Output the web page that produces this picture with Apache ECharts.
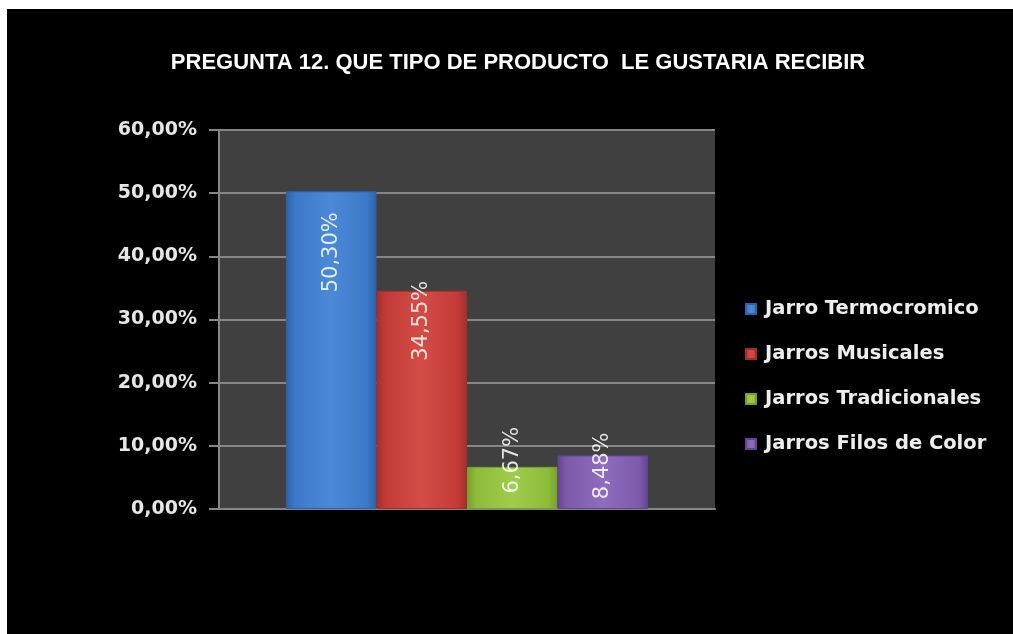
<!DOCTYPE html>
<html>
<head>
<meta charset="utf-8">
<script src="https://cdn.jsdelivr.net/npm/echarts@6/dist/echarts.min.js"></script>
<style>
  html, body { margin: 0; padding: 0; background: #ffffff; width: 1013px; height: 634px; overflow: hidden; }
  #chart { position: absolute; left: 7px; top: 9px; width: 1006px; height: 625px; background: #000000; }
</style>
</head>
<body>
<div id="chart"></div>
<script>
// Survey question 12: which product respondents would like to receive (share of answers)
const titleText = 'PREGUNTA 12. QUE TIPO DE PRODUCTO  LE GUSTARIA RECIBIR';
const categories = ['Pregunta 12'];
const seriesNames = ['Jarro Termocromico', 'Jarros Musicales', 'Jarros Tradicionales', 'Jarros Filos de Color'];
const seriesValues = [0.5030, 0.3455, 0.0667, 0.0848];
const tickValues = [0, 0.1, 0.2, 0.3, 0.4, 0.5, 0.6];

// bar appearance: [edge, face, light] per series
const palette = [
  ['#2f62a6', '#3b78c9', '#4c8ad8'],
  ['#a22e2a', '#c23b36', '#d44c46'],
  ['#74a02c', '#8cbc3a', '#a0cc4c'],
  ['#63458f', '#7d5aac', '#8e6dbd']
];
// label placement relative to each bar's top
const labelDistance = [21, -10, -40, -23];

const pct = v => (v * 100).toFixed(2).replace('.', ',') + '%';

function barFill(c) {
  return new echarts.graphic.LinearGradient(0, 0, 1, 0, [
    { offset: 0, color: c[0] },
    { offset: 0.1, color: c[1] },
    { offset: 0.5, color: c[2] },
    { offset: 0.9, color: c[1] },
    { offset: 1, color: c[0] }
  ]);
}

const chart = echarts.init(document.getElementById('chart'));

const series = seriesNames.map((name, i) => ({
  name: name,
  type: 'bar',
  barGap: '0%',
  barCategoryGap: '27%',
  data: [seriesValues[i]],
  itemStyle: {
    color: barFill(palette[i]),
    borderColor: palette[i][0],
    borderWidth: 1
  },
  label: {
    show: true,
    position: 'insideTop',
    distance: labelDistance[i],
    rotate: 90,
    align: 'right',
    verticalAlign: 'middle',
    formatter: p => pct(p.value),
    color: 'rgba(255,255,255,0.85)',
    fontFamily: 'DejaVu Sans',
    fontSize: 21
  },
  emphasis: { disabled: true }
}));

chart.setOption({
  animation: false,
  backgroundColor: '#000000',
  color: palette.map(c => c[1]),
  title: {
    text: titleText,
    left: 506,
    top: 38,
    textAlign: 'center',
    textStyle: {
      color: '#ffffff',
      fontFamily: 'Liberation Sans',
      fontWeight: 'bold',
      fontSize: 22
    }
  },
  legend: {
    orient: 'vertical',
    left: 733,
    top: 285,
    itemWidth: 10,
    itemHeight: 10,
    itemGap: 25,
    icon: 'rect',
    data: seriesNames,
    textStyle: {
      color: '#eeeeee',
      fontFamily: 'DejaVu Sans',
      fontWeight: 'bold',
      fontSize: 19.5,
      lineHeight: 20,
      padding: [0, 0, 0, 4]
    }
  },
  grid: {
    left: 212,
    right: 298,
    top: 121,
    bottom: 125,
    show: true,
    backgroundColor: '#404040',
    borderWidth: 0
  },
  xAxis: {
    type: 'category',
    data: categories,
    axisLine: { show: true, lineStyle: { color: '#868686', width: 2 } },
    axisTick: { show: false },
    axisLabel: { show: false }
  },
  yAxis: {
    type: 'value',
    min: tickValues[0],
    max: tickValues[tickValues.length - 1],
    interval: 0.1,
    axisLine: { show: true, lineStyle: { color: '#868686', width: 2 } },
    axisTick: { show: true, length: 10, lineStyle: { color: '#868686', width: 2 } },
    splitLine: { show: true, lineStyle: { color: '#868686', width: 2 } },
    axisLabel: {
      margin: 22,
      formatter: v => pct(v),
      color: '#e6e6e6',
      fontFamily: 'DejaVu Sans',
      fontWeight: 'bold',
      fontSize: 19
    }
  },
  series: series
});
</script>
</body>
</html>
